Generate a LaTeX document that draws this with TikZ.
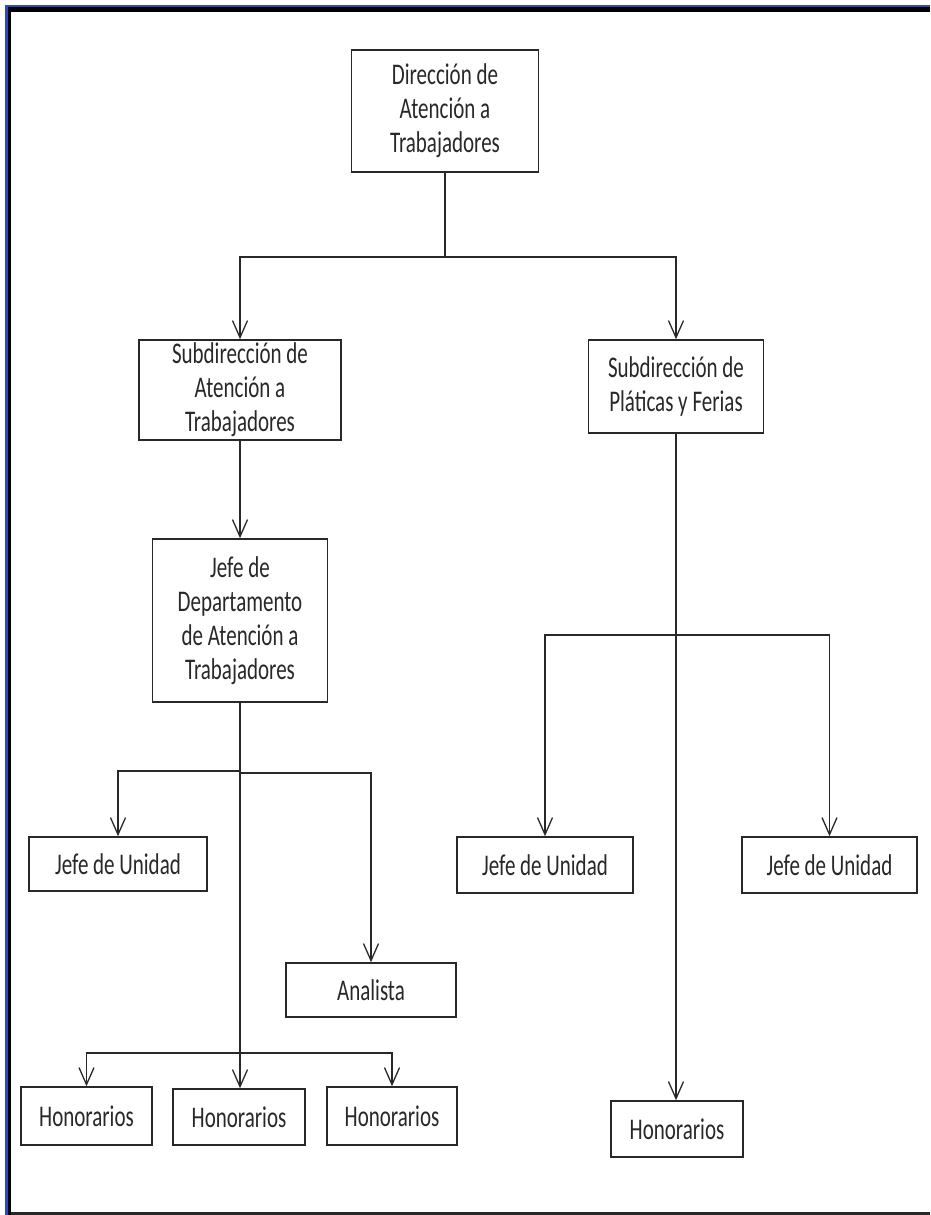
\documentclass[tikz,border=0pt]{standalone}
\usepackage{fontspec}
\setmainfont{Carlito}[FakeStretch=0.7]
\usetikzlibrary{arrows.meta}
\definecolor{framblue}{RGB}{48,72,190}
\definecolor{ink}{RGB}{40,40,40}
\begin{document}
\begin{tikzpicture}[x=1pt,y=-1pt,
  orgbox/.style={draw=ink, line width=1.6pt, inner sep=0pt, align=center,
    text=ink, font=\fontsize{30}{34}\selectfont},
  link/.style={draw=ink, line width=1.4pt},
  arr/.style={link, -{Straight Barb[length=17pt,width=15pt,line width=1.3pt]}}]
\useasboundingbox (0,0) rectangle (930,1215);
% window frame
\fill[framblue] (5,5) rectangle (930,1215);
\fill[black] (7.5,7.5) rectangle (930,1215);
\fill[white] (11,12) rectangle (930,1212);
\draw[ink, line width=3pt] (11,1213.5) -- (930,1213.5);

% boxes
\node[orgbox, minimum width=187pt, minimum height=122pt] (dir) at (445,111)
  {Dirección de\\Atención a\\Trabajadores};
\node[orgbox, minimum width=202pt, minimum height=100pt] (sub1) at (240,390)
  {Subdirección de\\Atención a\\Trabajadores};
\node[orgbox, minimum width=175pt, minimum height=93pt] (sub2) at (676,386.5)
  {Subdirección de\\Pláticas y Ferias};
\node[orgbox, minimum width=175pt, minimum height=163pt] (jefe) at (240,620.5)
  {Jefe de\\Departamento\\de Atención a\\Trabajadores};
\node[orgbox, minimum width=178pt, minimum height=54pt] (ju1) at (118,864)
  {Jefe de Unidad};
\node[orgbox, minimum width=170pt, minimum height=54pt] (ana) at (371,990)
  {Analista};
\node[orgbox, minimum width=176pt, minimum height=56pt] (ju2) at (545,865)
  {Jefe de Unidad};
\node[orgbox, minimum width=175pt, minimum height=56pt] (ju3) at (829.5,865)
  {Jefe de Unidad};
\node[orgbox, minimum width=131pt, minimum height=58pt] (h1) at (86.5,1116)
  {Honorarios};
\node[orgbox, minimum width=132pt, minimum height=56pt] (h2) at (239,1117)
  {Honorarios};
\node[orgbox, minimum width=130pt, minimum height=58pt] (h3) at (392,1116)
  {Honorarios};
\node[orgbox, minimum width=132pt, minimum height=56pt] (h4) at (677,1129)
  {Honorarios};

% junction points
\coordinate (j0) at (445,257);
\coordinate (jl) at (240,771);
\coordinate (jr) at (240,773);
\coordinate (jh) at (240,1053);
\coordinate (jp) at (676,635);

% top level
\draw[link] (dir.south) -- (j0);
\draw[arr] (j0) -| (sub1.north);
\draw[arr] (j0) -| (sub2.north);

% left branch
\draw[arr] (sub1.south) -- (sub1.south |- jefe.north);
\draw[link] (jefe.south) -- (jh);
\draw[arr] (jl) -| (ju1.north);
\draw[arr] (jr) -| (ana.north);
\draw[arr] (jh) -| (h1.north);
\draw[arr] (jh) -| (h3.north);
\draw[arr] (jh) -- (jh |- h2.north);

% right branch
\draw[arr] (sub2.south) -- (sub2.south |- h4.north);
\draw[arr] (jp) -| (ju2.north);
\draw[arr] (jp) -| (ju3.north);
\end{tikzpicture}
\end{document}
